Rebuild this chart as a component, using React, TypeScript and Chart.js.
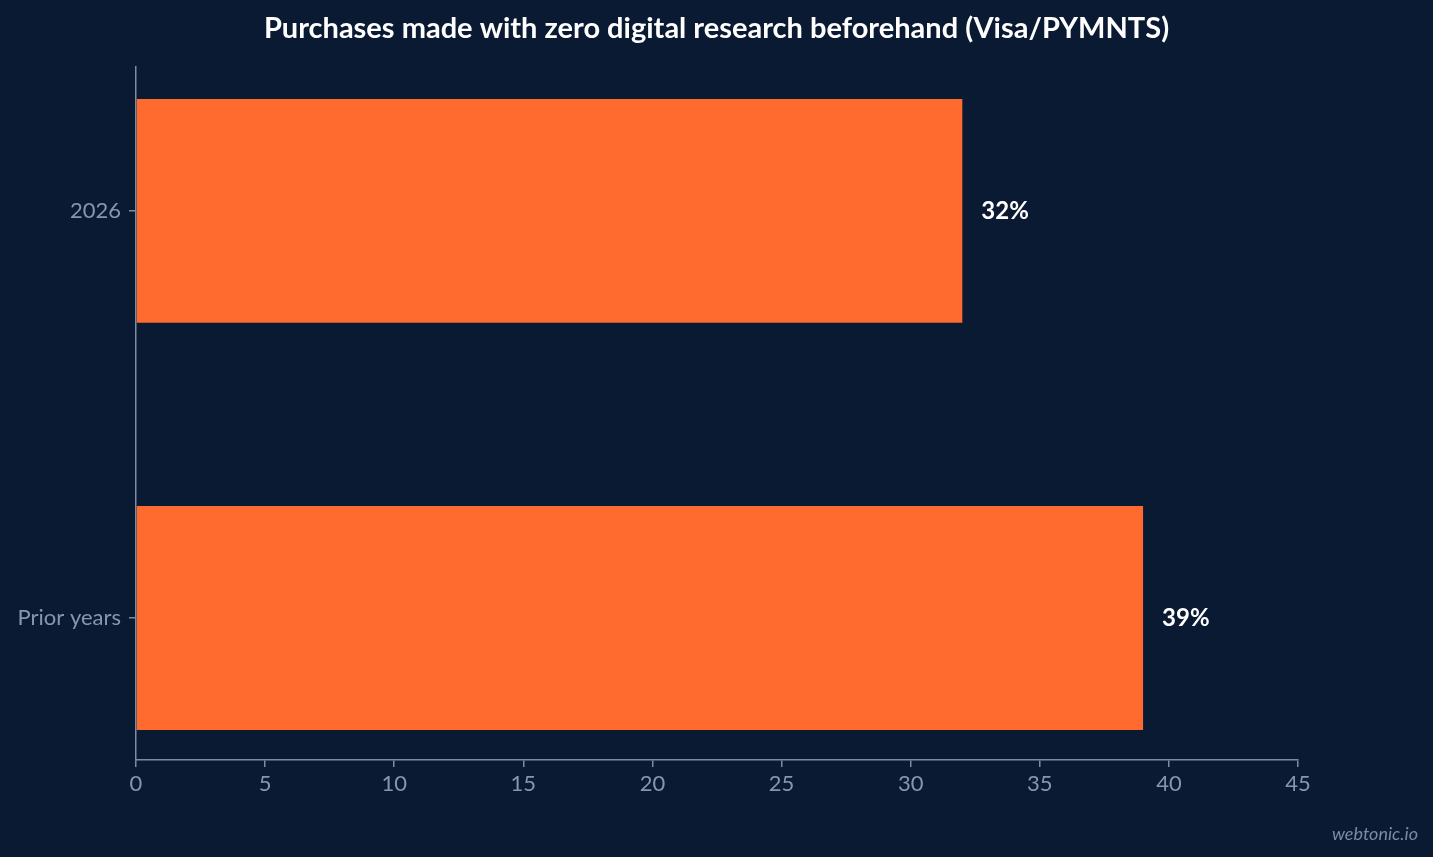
import { useEffect, useRef } from 'react';
import Chart from 'chart.js/auto';

const CATEGORIES = ['2026', 'Prior years'];
const VALUES = [32, 39];
const X_TICKS = [0, 5, 10, 15, 20, 25, 30, 35, 40, 45];

const C = {
  bg: '#0b1a33',
  bar: '#ff6b2e',
  axis: '#7d8ca5',
  tick: '#8796ad',
  white: '#ffffff',
  mark: '#7d8aa0'
};

const FONT = 'Lato, "Noto Sans", sans-serif';

const valueLabels = {
  id: 'valueLabels',
  afterDatasetsDraw(chart: Chart) {
    const ctx = chart.ctx;
    const meta = chart.getDatasetMeta(0);
    ctx.save();
    ctx.font = `bold 24px ${FONT}`;
    ctx.fillStyle = C.white;
    ctx.textAlign = 'left';
    ctx.textBaseline = 'middle';
    meta.data.forEach((bar: any, i: number) => {
      ctx.fillText(VALUES[i] + '%', bar.x + 19, bar.y);
    });
    ctx.restore();
  }
};

const watermark = {
  id: 'watermark',
  afterDraw(chart: Chart) {
    const ctx = chart.ctx;
    ctx.save();
    ctx.font = `italic 18px ${FONT}`;
    ctx.fillStyle = C.mark;
    ctx.textAlign = 'right';
    ctx.textBaseline = 'alphabetic';
    ctx.fillText('webtonic.io', chart.width - 15, chart.height - 17);
    ctx.restore();
  }
};

export default function App() {
  const canvasRef = useRef<HTMLCanvasElement | null>(null);

  useEffect(() => {
    document.body.style.margin = '0';
    document.body.style.background = C.bg;
    let chart: Chart | null = null;

    if (canvasRef.current) {
      chart = new Chart(canvasRef.current, {
        type: 'bar',
        data: {
          datasets: [
            {
              data: VALUES.map((v, i) => ({ x: v, y: i })),
              backgroundColor: C.bar,
              borderWidth: 0,
              categoryPercentage: 1,
              barPercentage: 0.55
            }
          ]
        },
        options: {
          indexAxis: 'y',
          animation: false,
          responsive: false,
          maintainAspectRatio: false,
          layout: {
            padding: 0
          },
          plugins: {
            legend: { display: false },
            tooltip: { enabled: false },
            title: {
              display: true,
              text: 'Purchases made with zero digital research beforehand (Visa/PYMNTS)',
              color: C.white,
              font: { family: FONT, size: 29, weight: 'bold', lineHeight: 1.2 },
              padding: { top: 11, bottom: 21 }
            }
          },
          scales: {
            x: {
              type: 'linear',
              min: 0,
              max: 45,
              afterBuildTicks: (scale: any) => {
                scale.ticks = X_TICKS.map((v) => ({ value: v }));
              },
              afterFit: (scale: any) => {
                scale.height = 97;
              },
              grid: {
                display: true,
                drawOnChartArea: false,
                drawTicks: true,
                tickLength: 7,
                color: C.axis,
                lineWidth: 1.5
              },
              border: { display: true, color: C.axis, width: 1.5 },
              ticks: {
                color: C.tick,
                padding: 4,
                font: { family: FONT, size: 22 },
                maxRotation: 0
              }
            },
            y: {
              type: 'linear',
              reverse: true,
              offset: false,
              min: -0.354,
              max: 1.349,
              afterBuildTicks: (scale: any) => {
                scale.ticks = CATEGORIES.map((_, i) => ({ value: i }));
              },
              afterFit: (scale: any) => {
                scale.width = 136;
              },
              grid: {
                display: true,
                offset: false,
                drawOnChartArea: false,
                drawTicks: true,
                tickLength: 7,
                color: C.axis,
                lineWidth: 1.5
              },
              border: { display: true, color: C.axis, width: 1.5 },
              ticks: {
                color: C.tick,
                padding: 8,
                font: { family: FONT, size: 22 },
                callback: (v: any) => CATEGORIES[Math.round(Number(v))] ?? ''
              }
            },
            yRight: {
              type: 'linear',
              position: 'right',
              display: true,
              min: 0,
              max: 1,
              afterFit: (scale: any) => {
                scale.width = 135;
              },
              grid: { display: false },
              border: { display: false },
              ticks: { display: false }
            }
          }
        },
        plugins: [valueLabels, watermark]
      });
    }

    return () => {
      if (chart) chart.destroy();
    };
  }, []);

  return (
    <div style={{ width: '1433px', height: '857px', background: C.bg }}>
      <canvas ref={canvasRef} width={1433} height={857} style={{ display: 'block' }}></canvas>
    </div>
  );
}
